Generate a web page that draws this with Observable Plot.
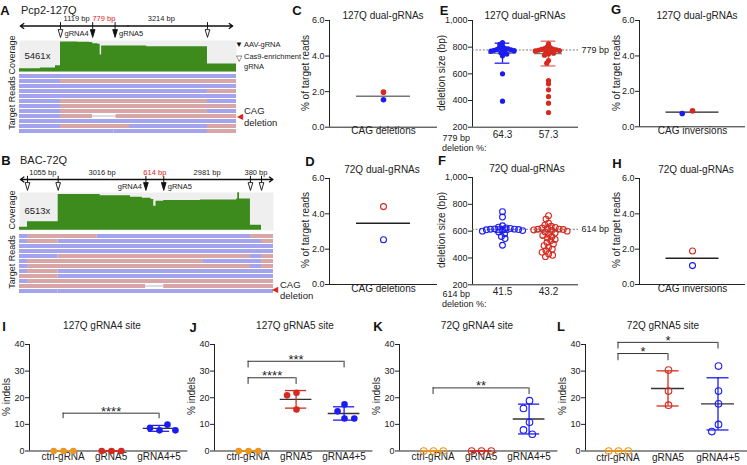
<!DOCTYPE html>
<html><head><meta charset="utf-8">
<script src="https://cdn.jsdelivr.net/npm/d3@7"></script>
<script src="https://cdn.jsdelivr.net/npm/@observablehq/plot@0.6"></script>
<style>
body{margin:0;background:#fff}
#fig{position:relative;width:747px;height:465px;overflow:hidden;background:#fff;font-family:Arial,"Liberation Sans",Helvetica,sans-serif;color:#222}
</style></head><body><div id="fig"></div>
<script>
// ================= DATA =================
// Panel A (Pcp2-127Q) genome track, positions in bp relative to first Cas9 site
const aDomain = [-1426, 6121];
const aArrow = [-1400, 5990];
const aSites = [
  {bp: 0, kind: "cas9"}, {bp: 1119, kind: "aav", name: "gRNA4", side: "left"},
  {bp: 1898, kind: "aav", name: "gRNA5", side: "right"}, {bp: 5112, kind: "cas9"}
];
const aSegLabels = [
  {from: 0, to: 1119, text: "1119 bp", red: false},
  {from: 1119, to: 1898, text: "779 bp", red: true},
  {from: 1898, to: 5112, text: "3214 bp", red: false}
];
const aCovBp =    [-1426, -700, -174, 0, 600, 1000, 1119, 1300, 1380, 1430, 3000, 5112, 6121];
const aCovDepth = [  600,  750, 1150, 5461, 5440, 5380, 5150, 5050, 3100, 4750, 4620, 1450, 1450];
const aCovMax = 5740;
const aReads = [
 [1,-1426,6121,"b"],
 [2,-1426,0,"b"],[2,0,6121,"p"],
 [3,-1426,6121,"b"],
 [4,-1426,5112,"b"],[4,5112,6121,"p"],
 [5,-1426,6121,"b"],
 [6,-1426,0,"b"],[6,0,5112,"p"],[6,5112,6121,"b"],
 [7,-1426,0,"b"],[7,0,6121,"p"],
 [8,-1426,0,"b"],[8,0,5112,"p"],[8,5112,6121,"b"],
 [9,-1426,0,"b"],[9,0,1119,"p"],[9,1119,1930,"gap"],[9,1930,6121,"p"],
 [10,-1426,6121,"b"],
 [11,-1426,0,"b"],[11,0,2400,"p"],[11,2400,5112,"b"],[11,5112,6121,"p"],
 [12,-1426,1860,"b"],[12,1860,5112,"b"],[12,5112,6121,"p"]
];
// Panel B (BAC-72Q)
const bDomain = [-275, 8458];
const bArrow = [-245, 8440];
const bSites = [
  {bp: 0, kind: "cas9"}, {bp: 1055, kind: "cas9"},
  {bp: 4071, kind: "aav", name: "gRNA4", side: "left"},
  {bp: 4685, kind: "aav", name: "gRNA5", side: "right"},
  {bp: 7666, kind: "cas9"}, {bp: 8046, kind: "cas9"}
];
const bSegLabels = [
  {from: 0, to: 1055, text: "1055 bp", red: false},
  {from: 1055, to: 4071, text: "3016 bp", red: false},
  {from: 4071, to: 4685, text: "614 bp", red: true},
  {from: 4685, to: 7666, text: "2981 bp", red: false},
  {from: 7666, to: 8046, text: "380 bp", red: false}
];
const bCovBp =    [-275,    0, 1055, 2500, 3540, 3950, 4250, 4340, 4420, 4685, 5950, 7190, 7230, 7290, 7666, 8046, 8458];
const bCovDepth = [ 560, 1580, 6513, 6300, 6050, 5850, 5600, 4400, 5300, 5450, 5550, 5700, 6850, 5700,  900,    0,    0];
const bCovMax = 6900;
const bReads = [
 [1,-275,0,"b"],[1,0,2400,"p"],[1,2400,7666,"b"],[1,7666,8458,"p"],
 [2,-275,0,"b"],[2,0,1055,"p"],[2,1055,8046,"b"],[2,8046,8458,"p"],
 [3,-275,8458,"b"],
 [4,-275,8458,"b"],
 [5,-275,1055,"b"],[5,1055,7666,"p"],[5,7666,8046,"b"],[5,8046,8458,"p"],
 [6,-275,0,"b"],[6,0,6050,"p"],[6,6050,8046,"b"],[6,8046,8458,"p"],
 [7,-275,0,"b"],[7,0,7666,"p"],[7,7666,8046,"b"],[7,8046,8458,"p"],
 [8,-275,0,"b"],[8,0,1055,"p"],[8,1055,8458,"b"],
 [9,-275,1055,"p"],[9,1055,7666,"b"],[9,7666,8458,"b"],
 [10,-275,0,"b"],[10,0,7666,"p"],[10,7666,8458,"p"],
 [11,-275,4071,"p"],[11,4071,4685,"gap"],[11,4685,8458,"p"],
 [12,-275,1055,"b"],[12,1055,7666,"b"],[12,7666,8458,"b"]
];
// Panels C, D, G, H: % of target reads (red replicate, blue replicate)
const cVals = [1.97, 1.54], cMean = 1.74;
const dVals = [4.41, 2.53], dMean = 3.47;
const gVals = [0.90, 0.75], gMean = 0.83;
const hVals = [1.90, 1.07], hMean = 1.49;
// Panel E: 127Q deletion sizes (bp)
const eBlue = [835, 822, 808, 798, 792, 787, 783, 780, 779, 777, 774, 770, 765, 758, 748, 735, 600, 395];
const eRed  = [825, 803, 796, 790, 786, 783, 780, 779, 777, 775, 772, 768, 762, 755, 748, 740, 700, 680, 550, 525, 480, 430, 380, 310];
const eMean = [755, 752], eSd = [75, 93];
const ePct = ["64.3", "57.3"];
// Panel F: 72Q deletion sizes (bp)
const fBlue = [745, 705, 640, 630, 624, 620, 617, 615, 614, 612, 610, 607, 604, 600, 594, 580, 560, 545, 495];
const fRed  = [715, 690, 660, 645, 636, 628, 622, 618, 615, 614, 612, 609, 605, 600, 594, 586, 578, 568, 558, 548, 538, 528, 515, 504, 492, 479, 466, 454, 442, 430, 420, 410];
const fMean = [612, 598], fSd = [20, 45];
const fPct = ["41.5", "43.2"];
// Panels I-L: % indels
const indelCats = ["ctrl-gRNA", "gRNA5", "gRNA4+5"];
const iVals = [[0, 0, 0], [0, 0, 0], [7.75, 8.6, 9.9, 7.75]];
const jVals = [[0, 0, 0], [21.9, 20.9, 15.6], [17.5, 14.9, 12.2, 12.2]];
const kVals = [[0, 0, 0], [0, 0, 0], [18.9, 16.0, 10.8, 7.9, 6.3]];
const lVals = [[0, 0, 0], [30.4, 22.5, 17.2], [31.9, 22.5, 17.7, 10.0, 7.3]];
const iMean = [0, 0, 8.5],  iSd = [0, 0, 1.1];
const jMean = [0, 19.4, 14.1], jSd = [0, 3.3, 2.5];
const kMean = [0, 0, 12.0], kSd = [0, 0, 5.6];
const lMean = [0, 23.5, 17.7], lSd = [0, 6.6, 9.8];
const iSig = [{a: 0, b: 2, y: 14.2, drop: 2.1, s: "****"}];
const jSig = [{a: 0, b: 1, y: 27.5, drop: 2.5, s: "****"}, {a: 0, b: 2, y: 33.7, drop: 2.5, s: "***"}];
const kSig = [{a: 0, b: 2, y: 23.7, drop: 2.5, s: "**"}];
const lSig = [{a: 0, b: 1, y: 36.6, drop: 2.7, s: "*"}, {a: 0, b: 2, y: 40.8, drop: 2.5, s: "*"}];

// ================= STYLE =================
const FONT = 'Arial, "Liberation Sans", Helvetica, sans-serif';
const BLUE = "#1c1cf2", RED = "#d42a1f", ORANGE = "#ec951f";
const READC = {b: "#a4a4ee", p: "#d8a6a6", gap: "#ffffff"};
const GREEN = "#3d8a1d";
const baseStyle = {background: "transparent", overflow: "visible", fontFamily: FONT, fontSize: "9px", color: "#222"};
const fig = document.getElementById("fig");

function place(el, left, top) {
  el.style.position = "absolute"; el.style.left = left + "px"; el.style.top = top + "px";
  fig.appendChild(el); return el;
}
function txt(s, x, y, o = {}) {
  const d = document.createElement("div");
  d.textContent = s;
  Object.assign(d.style, {position: "absolute", left: x + "px", top: y + "px", whiteSpace: "nowrap", lineHeight: "1",
    fontSize: (o.size || 10) + "px", fontWeight: o.bold ? "bold" : "normal", color: o.color || "#222"});
  const ax = o.anchor === "start" ? "0" : o.anchor === "end" ? "-100%" : "-50%";
  d.style.transform = `translate(${ax},-50%)` + (o.rotate ? ` rotate(${o.rotate}deg)` : "");
  fig.appendChild(d);
  return d;
}
const triDown = {
  draw(ctx, size) {
    const s = Math.sqrt(size), w = s * 0.33, h = s * 0.55;
    ctx.moveTo(-w, -h); ctx.lineTo(w, -h); ctx.lineTo(0, h); ctx.closePath();
  }
};

// ================= GENOME TRACKS =================
function genomeTrack(t) {
  const W = t.xR - t.xL;
  const common = {width: W, marginLeft: 0, marginRight: 0, x: {domain: t.domain, axis: null}, color: {type: "identity"}, style: baseStyle};
  const mid = (t.domain[0] + t.domain[1]) / 2;
  const hdr = Plot.plot({...common, height: 6 + (t.yTri - t.yLab) + 7, marginTop: 6, marginBottom: 7,
    y: {domain: [0, 2], reverse: true, axis: null},
    marks: [
      Plot.arrow([{a: mid, b: t.arrow[0]}, {a: mid, b: t.arrow[1]}], {x1: "a", x2: "b", y1: 1, y2: 1, headLength: 5, headAngle: 70, strokeWidth: 1.3, stroke: "#111"}),
      Plot.ruleX(t.sites, {x: "bp", y1: 0.55, y2: 1.45, stroke: "#111", strokeWidth: 1}),
      Plot.text(t.segLabels, {x: d => (d.from + d.to) / 2, y: 0, text: "text", fill: d => d.red ? "#e0201a" : "#222", fontSize: 7.5}),
      Plot.dot(t.sites, {x: "bp", y: 2, symbol: triDown, r: 4, fill: d => d.kind === "aav" ? "#111" : "#fff", stroke: "#111", strokeWidth: 0.9}),
      Plot.text(t.sites.filter(d => d.side === "left"), {x: "bp", y: 2, text: "name", textAnchor: "end", dx: -4, fontSize: 7.5}),
      Plot.text(t.sites.filter(d => d.side === "right"), {x: "bp", y: 2, text: "name", textAnchor: "start", dx: 4, fontSize: 7.5})
    ]});
  place(hdr, t.xL, t.yLab - 6);
  const cov = t.covBp.map((bp, i) => ({bp, depth: t.covDepth[i]}));
  const covPlot = Plot.plot({...common, height: t.covBot - t.covTop, marginTop: 0, marginBottom: 0,
    y: {domain: [0, t.covMax], axis: null},
    marks: [
      Plot.frame({fill: "#efefef", stroke: null}),
      Plot.areaY(cov, {x: "bp", y: "depth", curve: "step-after", fill: GREEN}),
      Plot.text([t.covLabel], {frameAnchor: "left", dx: 5, fontSize: 9.5, fill: "#222"})
    ]});
  place(covPlot, t.xL, t.covTop);
  const reads = t.reads.map(([row, s, e, k]) => ({row, s, e, k}));
  const rows = Array.from(new Set(reads.map(d => d.row)));
  const readPlot = Plot.plot({...common, height: t.readBot - t.readTop, marginTop: 0, marginBottom: 0,
    y: {type: "band", domain: rows, padding: 0.17, axis: null},
    marks: [
      Plot.barX(reads, {x1: "s", x2: "e", y: "row", fill: d => READC[d.k]}),
      Plot.barX(reads.filter(d => d.k === "gap"), {x1: "s", x2: "e", y: "row", fill: "#8a8a8a", insetTop: 1.7, insetBottom: 1.7})
    ]});
  place(readPlot, t.xL, t.readTop);
}

genomeTrack({xL: 19, xR: 236, domain: aDomain, arrow: aArrow, sites: aSites, segLabels: aSegLabels, yLab: 18, yTri: 33,
  covBp: aCovBp, covDepth: aCovDepth, covMax: aCovMax, covTop: 40, covBot: 71.5, covLabel: "5461x",
  reads: aReads, readTop: 72, readBot: 135});
genomeTrack({xL: 19, xR: 273, domain: bDomain, arrow: bArrow, sites: bSites, segLabels: bSegLabels, yLab: 172, yTri: 186,
  covBp: bCovBp, covDepth: bCovDepth, covMax: bCovMax, covTop: 191.5, covBot: 229.3, covLabel: "6513x",
  reads: bReads, readTop: 229.5, readBot: 296});

// ================= DOT PANELS =================
function dotPanel(p) {
  const mt = 14, mb = 16, ml = 30, mr = 36;
  const H = mt + (p.yBot - p.yTop) + mb;
  const W = ml + (p.x1 - p.x0) + mr;
  const sum = p.sum || [];
  const marks = [
    Plot.ruleY([p.yDomain[0]], {stroke: "#222", strokeWidth: 1}),
    Plot.ruleX([p.xDomain[0]], {y1: p.yDomain[0], y2: p.yDomain[1], stroke: "#222", strokeWidth: 1}),
    ...(p.extra || []),
    Plot.text(p.cats, {x: (d, i) => i, text: d => d, frameAnchor: "bottom", dy: p.catDy ?? 9, fontSize: 10, fill: "#222"}),
    Plot.ruleY(p.means, {x1: d => d.g - p.meanHalf, x2: d => d.g + p.meanHalf, y: "mean", stroke: p.meanColor || "#333", strokeWidth: 1.4}),
    Plot.ruleX(sum, {x: "g", y1: d => d.mean - d.sd, y2: d => d.mean + d.sd, stroke: "c", strokeWidth: 1.3}),
    Plot.ruleY(sum, {x1: d => d.g - p.capHalf, x2: d => d.g + p.capHalf, y: d => d.mean + d.sd, stroke: "c", strokeWidth: 1.3}),
    Plot.ruleY(sum, {x1: d => d.g - p.capHalf, x2: d => d.g + p.capHalf, y: d => d.mean - d.sd, stroke: "c", strokeWidth: 1.3})
  ];
  if (p.sig) {
    marks.push(
      Plot.ruleY(p.sig, {x1: "a", x2: "b", y: "y", stroke: "#333", strokeWidth: 1}),
      Plot.ruleX(p.sig, {x: "a", y1: d => d.y - d.drop, y2: "y", stroke: "#333", strokeWidth: 1}),
      Plot.ruleX(p.sig, {x: "b", y1: d => d.y - d.drop, y2: "y", stroke: "#333", strokeWidth: 1}),
      Plot.text(p.sig, {x: d => (d.a + d.b) / 2, y: "y", text: "s", lineAnchor: "bottom", dy: 2.5, fontSize: 13, fill: "#222"})
    );
  }
  const main = Plot.plot({width: W, height: H, marginLeft: ml, marginRight: mr, marginTop: mt, marginBottom: mb,
    style: baseStyle, color: {type: "identity"},
    x: {domain: p.xDomain, axis: null},
    y: {domain: p.yDomain, ticks: p.yTicks, tickSize: 4, tickPadding: 1, label: null},
    marks});
  place(main, p.x0 - ml, p.yTop - mt);
  const sx = main.scale("x");
  const toPx = sx && sx.apply ? v => sx.apply(v)
    : v => ml + (v - p.xDomain[0]) / (p.xDomain[1] - p.xDomain[0]) * (W - ml - mr);
  for (const [g, gp] of d3.groups(p.pts, d => d.g)) {
    const ow = 100;
    const ov = Plot.plot({width: ow, height: H, marginLeft: 0, marginRight: 0, marginTop: mt, marginBottom: mb,
      style: baseStyle, color: {type: "identity"},
      y: {domain: p.yDomain, axis: null},
      marks: [Plot.dot(gp, Plot.dodgeX({anchor: "middle", padding: p.pad}, {y: "v", r: p.r,
        fill: p.open ? "none" : "c", stroke: "c", strokeWidth: p.open ? 1.1 : 0}))]});
    place(ov, p.x0 - ml + toPx(g) - ow / 2, p.yTop - mt);
  }
}

const pair = (vals) => [{g: 0, v: vals[0], c: RED}, {g: 0, v: vals[1], c: BLUE}];
const pctTicks = [0, 2, 4, 6];
dotPanel({x0: 329, x1: 437, yTop: 20, yBot: 126.7, xDomain: [-1, 1], yDomain: [0, 6], yTicks: pctTicks,
  cats: ["CAG deletions"], catDy: 7, pts: pair(cVals), means: [{g: 0, mean: cMean}], meanHalf: 0.5, meanColor: "#777", r: 2.8, pad: 1});
dotPanel({x0: 329, x1: 437, yTop: 177.5, yBot: 283.5, xDomain: [-1, 1], yDomain: [0, 6], yTicks: pctTicks,
  cats: ["CAG deletions"], catDy: 7, pts: pair(dVals), means: [{g: 0, mean: dMean}], meanHalf: 0.5, meanColor: "#222", r: 3, pad: 1, open: true});
dotPanel({x0: 639, x1: 745, yTop: 20, yBot: 126.3, xDomain: [-1, 1], yDomain: [0, 6], yTicks: pctTicks,
  cats: ["CAG inversions"], catDy: 7, pts: pair(gVals), means: [{g: 0, mean: gMean}], meanHalf: 0.5, meanColor: "#222", r: 2.8, pad: 5});
dotPanel({x0: 639, x1: 745, yTop: 177.5, yBot: 283.5, xDomain: [-1, 1], yDomain: [0, 6], yTicks: pctTicks,
  cats: ["CAG inversions"], catDy: 7, pts: pair(hVals), means: [{g: 0, mean: hMean}], meanHalf: 0.5, meanColor: "#222", r: 3, pad: 1, open: true});

const sizeTicks = [200, 400, 600, 800, 1000];
const grp2 = (b, r) => [...b.map(v => ({g: 0, v, c: BLUE})), ...r.map(v => ({g: 1, v, c: RED}))];
const refLine = (bp) => [
  Plot.ruleY([bp], {stroke: "#777", strokeDasharray: "2,1.6", strokeWidth: 1}),
  Plot.text([bp], {y: d => d, text: d => `${d} bp`, frameAnchor: "right", textAnchor: "start", dx: 3, fontSize: 9, fill: "#222"})
];
dotPanel({x0: 472, x1: 578, yTop: 20, yBot: 126.7, xDomain: [-0.652, 1.652], yDomain: [200, 1000], yTicks: sizeTicks,
  cats: ePct, catDy: 11, pts: grp2(eBlue, eRed),
  sum: [{g: 0, mean: eMean[0], sd: eSd[0], c: BLUE}, {g: 1, mean: eMean[1], sd: eSd[1], c: "#e26a60"}],
  means: [{g: 0, mean: eMean[0]}, {g: 1, mean: eMean[1]}], meanHalf: 0.3, capHalf: 0.16, meanColor: "#777",
  extra: refLine(779), r: 2.6, pad: -2});
dotPanel({x0: 472, x1: 578, yTop: 176.7, yBot: 284, xDomain: [-0.652, 1.652], yDomain: [200, 1000], yTicks: sizeTicks,
  cats: fPct, catDy: 10, pts: grp2(fBlue, fRed),
  sum: [{g: 0, mean: fMean[0], sd: fSd[0], c: BLUE}, {g: 1, mean: fMean[1], sd: fSd[1], c: "#e88a80"}],
  means: [{g: 0, mean: fMean[0]}, {g: 1, mean: fMean[1]}], meanHalf: 0.3, capHalf: 0.16, meanColor: "#888",
  extra: refLine(614), r: 2.9, pad: -1.6, open: true});

const indelColors = [ORANGE, RED, BLUE];
const indelPts = (vals) => vals.flatMap((arr, g) => arr.map(v => ({g, v, c: indelColors[g]})));
const indelSum = (m, s) => m.map((mean, g) => ({g, mean, sd: s[g], c: indelColors[g]}));
const indelTicks = [0, 10, 20, 30, 40];
function indelPanel(x0, x1, xDomain, vals, m, s, sig, open) {
  dotPanel({x0, x1, yTop: 343.5, yBot: 450, xDomain, yDomain: [0, 40], yTicks: indelTicks, cats: indelCats, catDy: 9.5,
    pts: indelPts(vals), sum: indelSum(m, s), means: m.map((mean, g) => ({g, mean})).filter(d => d.mean > 0),
    meanHalf: 0.33, capHalf: 0.22, meanColor: "#333", sig, r: 3.3, pad: 3.2, open});
}
indelPanel(29, 187.4, [-0.7, 2.6], iVals, iMean, iSd, iSig, false);
indelPanel(214, 372.4, [-0.7, 2.6], jVals, jMean, jSd, jSig, false);
indelPanel(399, 557.4, [-0.7, 2.6], kVals, kMean, kSd, kSig, true);
indelPanel(585, 747.5, [-0.65, 2.6], lVals, lMean, lSd, lSig, true);

// ================= TEXT =================
const letters = [["A", 5, 10], ["B", 6, 160], ["C", 297, 10], ["D", 310, 161], ["E", 444, 10], ["F", 442, 160],
  ["G", 616, 9], ["H", 617, 163], ["I", 4, 326], ["J", 193, 327], ["K", 378, 326], ["L", 561, 326]];
for (const [s, x, y] of letters) txt(s, x, y, {size: 13, bold: true, color: "#111"});
txt("Pcp2-127Q", 21, 10, {anchor: "start", size: 11});
txt("BAC-72Q", 20, 160, {anchor: "start", size: 11});
const titles = [["127Q dual-gRNAs", 383, 16], ["72Q dual-gRNAs", 382, 169.5], ["127Q dual-gRNAs", 525, 16],
  ["72Q dual-gRNAs", 527, 169], ["127Q dual-gRNAs", 697, 16], ["72Q dual-gRNAs", 696, 170],
  ["127Q gRNA4 site", 102, 326], ["127Q gRNA5 site", 295, 326], ["72Q gRNA4 site", 477, 326], ["72Q gRNA5 site", 663, 326]];
for (const [s, x, y] of titles) txt(s, x, y, {size: 10});
const ylabels = [["% of target reads", 306, 73, 10], ["% of target reads", 306, 230, 10], ["% of target reads", 617, 73, 10],
  ["% of target reads", 617, 230, 10], ["deletion size (bp)", 442, 73, 10], ["deletion size (bp)", 442, 230, 10],
  ["% indels", 7, 397, 10], ["% indels", 192, 396, 10], ["% indels", 377, 396, 10], ["% indels", 563, 396, 10],
  ["Coverage", 12, 55, 9], ["Target Reads", 12, 103, 9], ["Coverage", 12, 210, 9], ["Target Reads", 12, 262, 9]];
for (const [s, x, y, sz] of ylabels) txt(s, x, y, {size: sz, rotate: -90});
txt("779 bp", 470, 138, {anchor: "end", size: 9});
txt("deletion %:", 442, 148, {anchor: "start", size: 9});
txt("614 bp", 470, 294, {anchor: "end", size: 9});
txt("deletion %:", 442, 304, {anchor: "start", size: 9});
// legend for A
txt("\u25BC", 239, 45, {size: 8, color: "#111"});
txt("AAV-gRNA", 244, 45, {anchor: "start", size: 7.5});
txt("\u25BD", 239, 59, {size: 8, color: "#111"});
txt("Cas9-enrichment", 244, 57, {anchor: "start", size: 7.5});
txt("gRNA", 244, 67, {anchor: "start", size: 7.5});
// CAG deletion markers
txt("\u25C0", 240, 117, {size: 8, color: "#d8261c"});
txt("CAG", 244, 111, {anchor: "start", size: 9.5});
txt("deletion", 244, 123, {anchor: "start", size: 9.5});
txt("\u25C0", 275, 290, {size: 8, color: "#d8261c"});
txt("CAG", 280, 285, {anchor: "start", size: 9.5});
txt("deletion", 280, 296, {anchor: "start", size: 9.5});
</script></body></html>
